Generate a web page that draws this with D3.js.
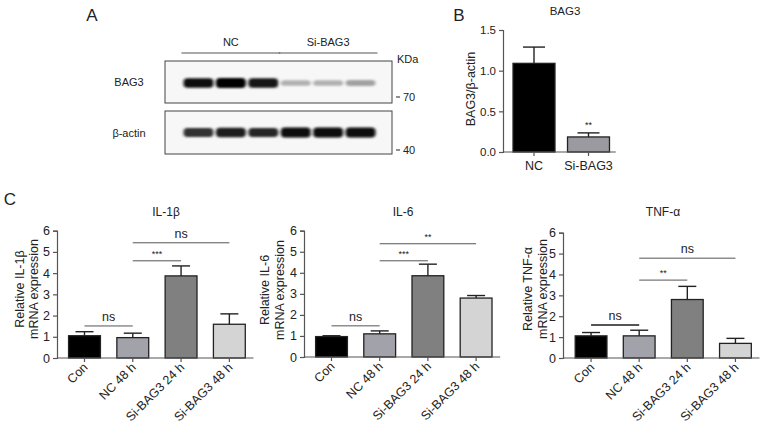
<!DOCTYPE html>
<html><head><meta charset="utf-8">
<script src="https://cdn.jsdelivr.net/npm/d3@7"></script>
<style>
body{margin:0;background:#fff;}
svg{display:block;font-family:"Liberation Sans",Arial,Helvetica,sans-serif;}
</style></head>
<body>
<svg id="c" width="763" height="427"></svg>
<script>
// ---------- Data ----------
const laneGroups = ["NC", "Si-BAG3"];
const lanes = [1, 2, 3, 4, 5, 6];
const bag3Bands = [0.95, 1.0, 0.92, 0.28, 0.28, 0.34];
const actinBands = [0.82, 0.9, 0.86, 0.97, 0.98, 0.98];
const markerLabels = ["70", "40"];

const bCategories = ["NC", "Si-BAG3"];
const bMeans = [1.09, 0.185];
const bErrors = [0.2, 0.05];
const bTicks = [0.0, 0.5, 1.0, 1.5];
const bSigLabels = ["", "**"];

const cCategories = ["Con", "NC 48 h", "Si-BAG3 24 h", "Si-BAG3 48 h"];
const il1bMeans = [1.05, 0.96, 3.87, 1.59];
const il1bErrors = [0.19, 0.21, 0.47, 0.49];
const il6Means = [0.97, 1.1, 3.86, 2.8];
const il6Errors = [0.04, 0.14, 0.55, 0.12];
const tnfMeans = [1.06, 1.06, 2.8, 0.70];
const tnfErrors = [0.16, 0.27, 0.63, 0.24];
const cTicks = [0, 1, 2, 3, 4, 5, 6];
const il1bSig = [[0, 1, 1.51, "ns"], [1, 2, 4.58, "***"], [1, 3, 5.43, "ns"]];
const il6Sig = [[0, 1, 1.48, "ns"], [1, 2, 4.57, "***"], [1, 3, 5.38, "**"]];
const tnfSig = [[0, 1, 1.58, "ns"], [1, 2, 3.73, "**"], [1, 3, 4.78, "ns"]];

// ---------- Drawing ----------
const svg = d3.select("#c");
const defs = svg.append("defs");
defs.append("filter").attr("id", "blur").attr("x", "-30%").attr("y", "-80%").attr("width", "160%").attr("height", "260%")
  .append("feGaussianBlur").attr("stdDeviation", "1.7 1.3");

const txt = (x, y, s, size, anchor = "middle") =>
  svg.append("text").attr("x", x).attr("y", y).attr("font-size", size)
    .attr("text-anchor", anchor).attr("fill", "#222").text(s);

// Panel letters
txt(92, 21, "A", 17);
txt(459, 21, "B", 17);
txt(10, 205, "C", 17);

// ---------- Panel A: blot ----------
const blotX0 = 165, blotX1 = 392;
const laneX = d3.scaleBand().domain(lanes).range([179, 380]).padding(0.2);
const bandColor = d3.scaleLinear().domain([0, 1]).range(["#f2f2f2", "#050505"]);
const rows = [
  {name: "BAG3", y0: 61, y1: 103, bands: bag3Bands, bandY: 83, h: 10},
  {name: "\u03b2-actin", y0: 111, y1: 154, bands: actinBands, bandY: 132.5, h: 10}
];
rows.forEach(r => {
  svg.append("rect").attr("x", blotX0).attr("y", r.y0).attr("width", blotX1 - blotX0).attr("height", r.y1 - r.y0)
    .attr("fill", "#f7f7f7").attr("stroke", "#444").attr("stroke-width", 1);
  svg.append("g").attr("filter", "url(#blur)").selectAll("rect").data(r.bands).join("rect")
    .attr("x", (d, i) => laneX(lanes[i]) - 2)
    .attr("width", laneX.bandwidth() + 4)
    .attr("y", d => r.bandY - r.h * (0.4 + 0.6 * d) / 2)
    .attr("height", d => r.h * (0.4 + 0.6 * d))
    .attr("rx", 4)
    .attr("fill", d => bandColor(d));
  txt(129, (r.y0 + r.y1) / 2 + 4, r.name, 11);
});
const groupLanes = [[1, 3], [4, 6]];
laneGroups.forEach((g, i) => {
  const xa = laneX(groupLanes[i][0]) - 4, xb = laneX(groupLanes[i][1]) + laneX.bandwidth() + 4;
  svg.append("line").attr("x1", xa).attr("x2", xb).attr("y1", 53).attr("y2", 53).attr("stroke", "#555").attr("stroke-width", 1);
  txt((xa + xb) / 2, 46, g, 11);
});
txt(397, 63, "KDa", 11, "start");
[[markerLabels[0], 97], [markerLabels[1], 150]].forEach(([m, y]) => {
  svg.append("line").attr("x1", 396).attr("x2", 400).attr("y1", y).attr("y2", y).attr("stroke", "#222");
  txt(403, y + 4, m, 11, "start");
});

// ---------- Bar chart helper ----------
function barChart(opt) {
  const g = svg.append("g");
  const x = d3.scaleBand().domain(opt.categories).range(opt.xr).paddingInner(opt.pin).paddingOuter(opt.pin / 2);
  const y = d3.scaleLinear().domain(opt.ydom).range(opt.yr);
  g.selectAll("rect.bar").data(opt.means).join("rect")
    .attr("x", (d, i) => x(opt.categories[i]))
    .attr("width", x.bandwidth())
    .attr("y", d => y(d))
    .attr("height", d => y(0) - y(d))
    .attr("fill", (d, i) => opt.colors[i])
    .attr("stroke", "#222").attr("stroke-width", 1.3);
  opt.means.forEach((m, i) => {
    const cx = x(opt.categories[i]) + x.bandwidth() / 2;
    const top = y(m + opt.errors[i]);
    g.append("line").attr("x1", cx).attr("x2", cx).attr("y1", y(m)).attr("y2", top).attr("stroke", "#222").attr("stroke-width", 1.4);
    g.append("line").attr("x1", cx - opt.cap).attr("x2", cx + opt.cap).attr("y1", top).attr("y2", top).attr("stroke", "#222").attr("stroke-width", 1.4);
  });
  const ya = g.append("g").attr("transform", `translate(${opt.ax},0)`)
    .call(d3.axisLeft(y).tickValues(opt.ticks).tickSize(4).tickFormat(opt.fmt));
  ya.select(".domain").attr("stroke", "#555").attr("stroke-width", 1.2);
  ya.selectAll(".tick line").attr("stroke", "#555").attr("stroke-width", 1.2);
  ya.selectAll(".tick text").attr("font-size", opt.fs).attr("fill", "#222").attr("font-family", "Liberation Sans, Arial, sans-serif");
  const xa = g.append("g").attr("transform", `translate(0,${y(0)})`)
    .call(d3.axisBottom(x).tickSize(4).tickSizeOuter(0));
  xa.select(".domain").attr("d", `M${opt.ax},0H${opt.xr[1]}`).attr("stroke", "#555").attr("stroke-width", 1.2);
  xa.selectAll(".tick line").attr("stroke", "#555").attr("stroke-width", 1.2);
  const tl = xa.selectAll(".tick text").attr("font-size", opt.xfs).attr("fill", "#222").attr("font-family", "Liberation Sans, Arial, sans-serif");
  if (opt.rotate) {
    tl.attr("text-anchor", "end").attr("dy", null).attr("y", null)
      .attr("transform", "translate(4,10) rotate(-45)");
  } else {
    tl.attr("y", 9).attr("dy", "0.71em");
  }
  (opt.sig || []).forEach(([a, b, v, lab]) => {
    const x1 = x(opt.categories[a]) + x.bandwidth() / 2, x2 = x(opt.categories[b]) + x.bandwidth() / 2;
    g.append("line").attr("x1", x1).attr("x2", x2).attr("y1", y(v)).attr("y2", y(v))
      .attr("stroke", "#555").attr("stroke-width", opt.sigWidth ? opt.sigWidth(a, b) : 1);
    const star = lab.indexOf("*") >= 0;
    txt((x1 + x2) / 2, y(v) - (star ? 4 : 5), lab, star ? 9 : 12.5);
  });
  (opt.starLabels || []).forEach((lab, i) => {
    if (!lab) return;
    const cx = x(opt.categories[i]) + x.bandwidth() / 2;
    txt(cx, y(opt.means[i] + opt.errors[i]) - 5, lab, 9);
  });
  txt(opt.titleX, opt.titleY, opt.title, opt.tfs);
  opt.ylab.forEach((l, i) => {
    svg.append("text").attr("transform", `translate(${opt.ylabX[i]},${opt.ylabY}) rotate(-90)`)
      .attr("text-anchor", "middle").attr("font-size", opt.lfs).attr("fill", "#222").text(l);
  });
}

barChart({
  categories: bCategories, means: bMeans, errors: bErrors, ticks: bTicks,
  fmt: d3.format(".1f"), xr: [506.75, 615.75], pin: 0.23, ydom: [0, 1.5], yr: [152, 30],
  ax: 503, colors: ["#000000", "#9a9aa0"], cap: 11, rotate: false, starLabels: bSigLabels,
  fs: 11.5, xfs: 12.5, tfs: 11.5, lfs: 12.5,
  title: "BAG3", titleX: 565, titleY: 15, ylab: ["BAG3/\u03b2-actin"], ylabX: [475], ylabY: 89
});

const cColors = ["#000000", "#a2a2aa", "#808080", "#d4d4d4"];
const cf = {fs: 12.5, xfs: 12.5, tfs: 12, lfs: 12.5};
barChart(Object.assign({
  categories: cCategories, means: il1bMeans, errors: il1bErrors, ticks: cTicks, fmt: d3.format("d"),
  xr: [60.35, 253.5], pin: 0.34, ydom: [0, 6], yr: [358, 230.7], ax: 57, colors: cColors, cap: 9,
  rotate: true, sig: il1bSig, title: "IL-1\u03b2", titleX: 166, titleY: 216,
  ylab: ["Relative IL-1\u03b2", "mRNA expression"], ylabX: [24, 38], ylabY: 289
}, cf));
barChart(Object.assign({
  categories: cCategories, means: il6Means, errors: il6Errors, ticks: cTicks, fmt: d3.format("d"),
  xr: [307.4, 500.2], pin: 0.34, ydom: [0, 6], yr: [357, 230.7], ax: 304, colors: cColors, cap: 9,
  rotate: true, sig: il6Sig, title: "IL-6", titleX: 403, titleY: 216,
  ylab: ["Relative IL-6", "mRNA expression"], ylabX: [269, 284], ylabY: 290
}, cf));
barChart(Object.assign({
  categories: cCategories, means: tnfMeans, errors: tnfErrors, ticks: cTicks, fmt: d3.format("d"),
  xr: [567, 759.5], pin: 0.34, ydom: [0, 6], yr: [358, 232.7], ax: 563, colors: cColors, cap: 9,
  rotate: true, sig: tnfSig, sigWidth: (a, b) => (a === 0 ? 2 : 1), title: "TNF-\u03b1", titleX: 663, titleY: 216,
  ylab: ["Relative  TNF-\u03b1", "mRNA expression"], ylabX: [532, 547], ylabY: 289
}, cf));
</script>
</body></html>
